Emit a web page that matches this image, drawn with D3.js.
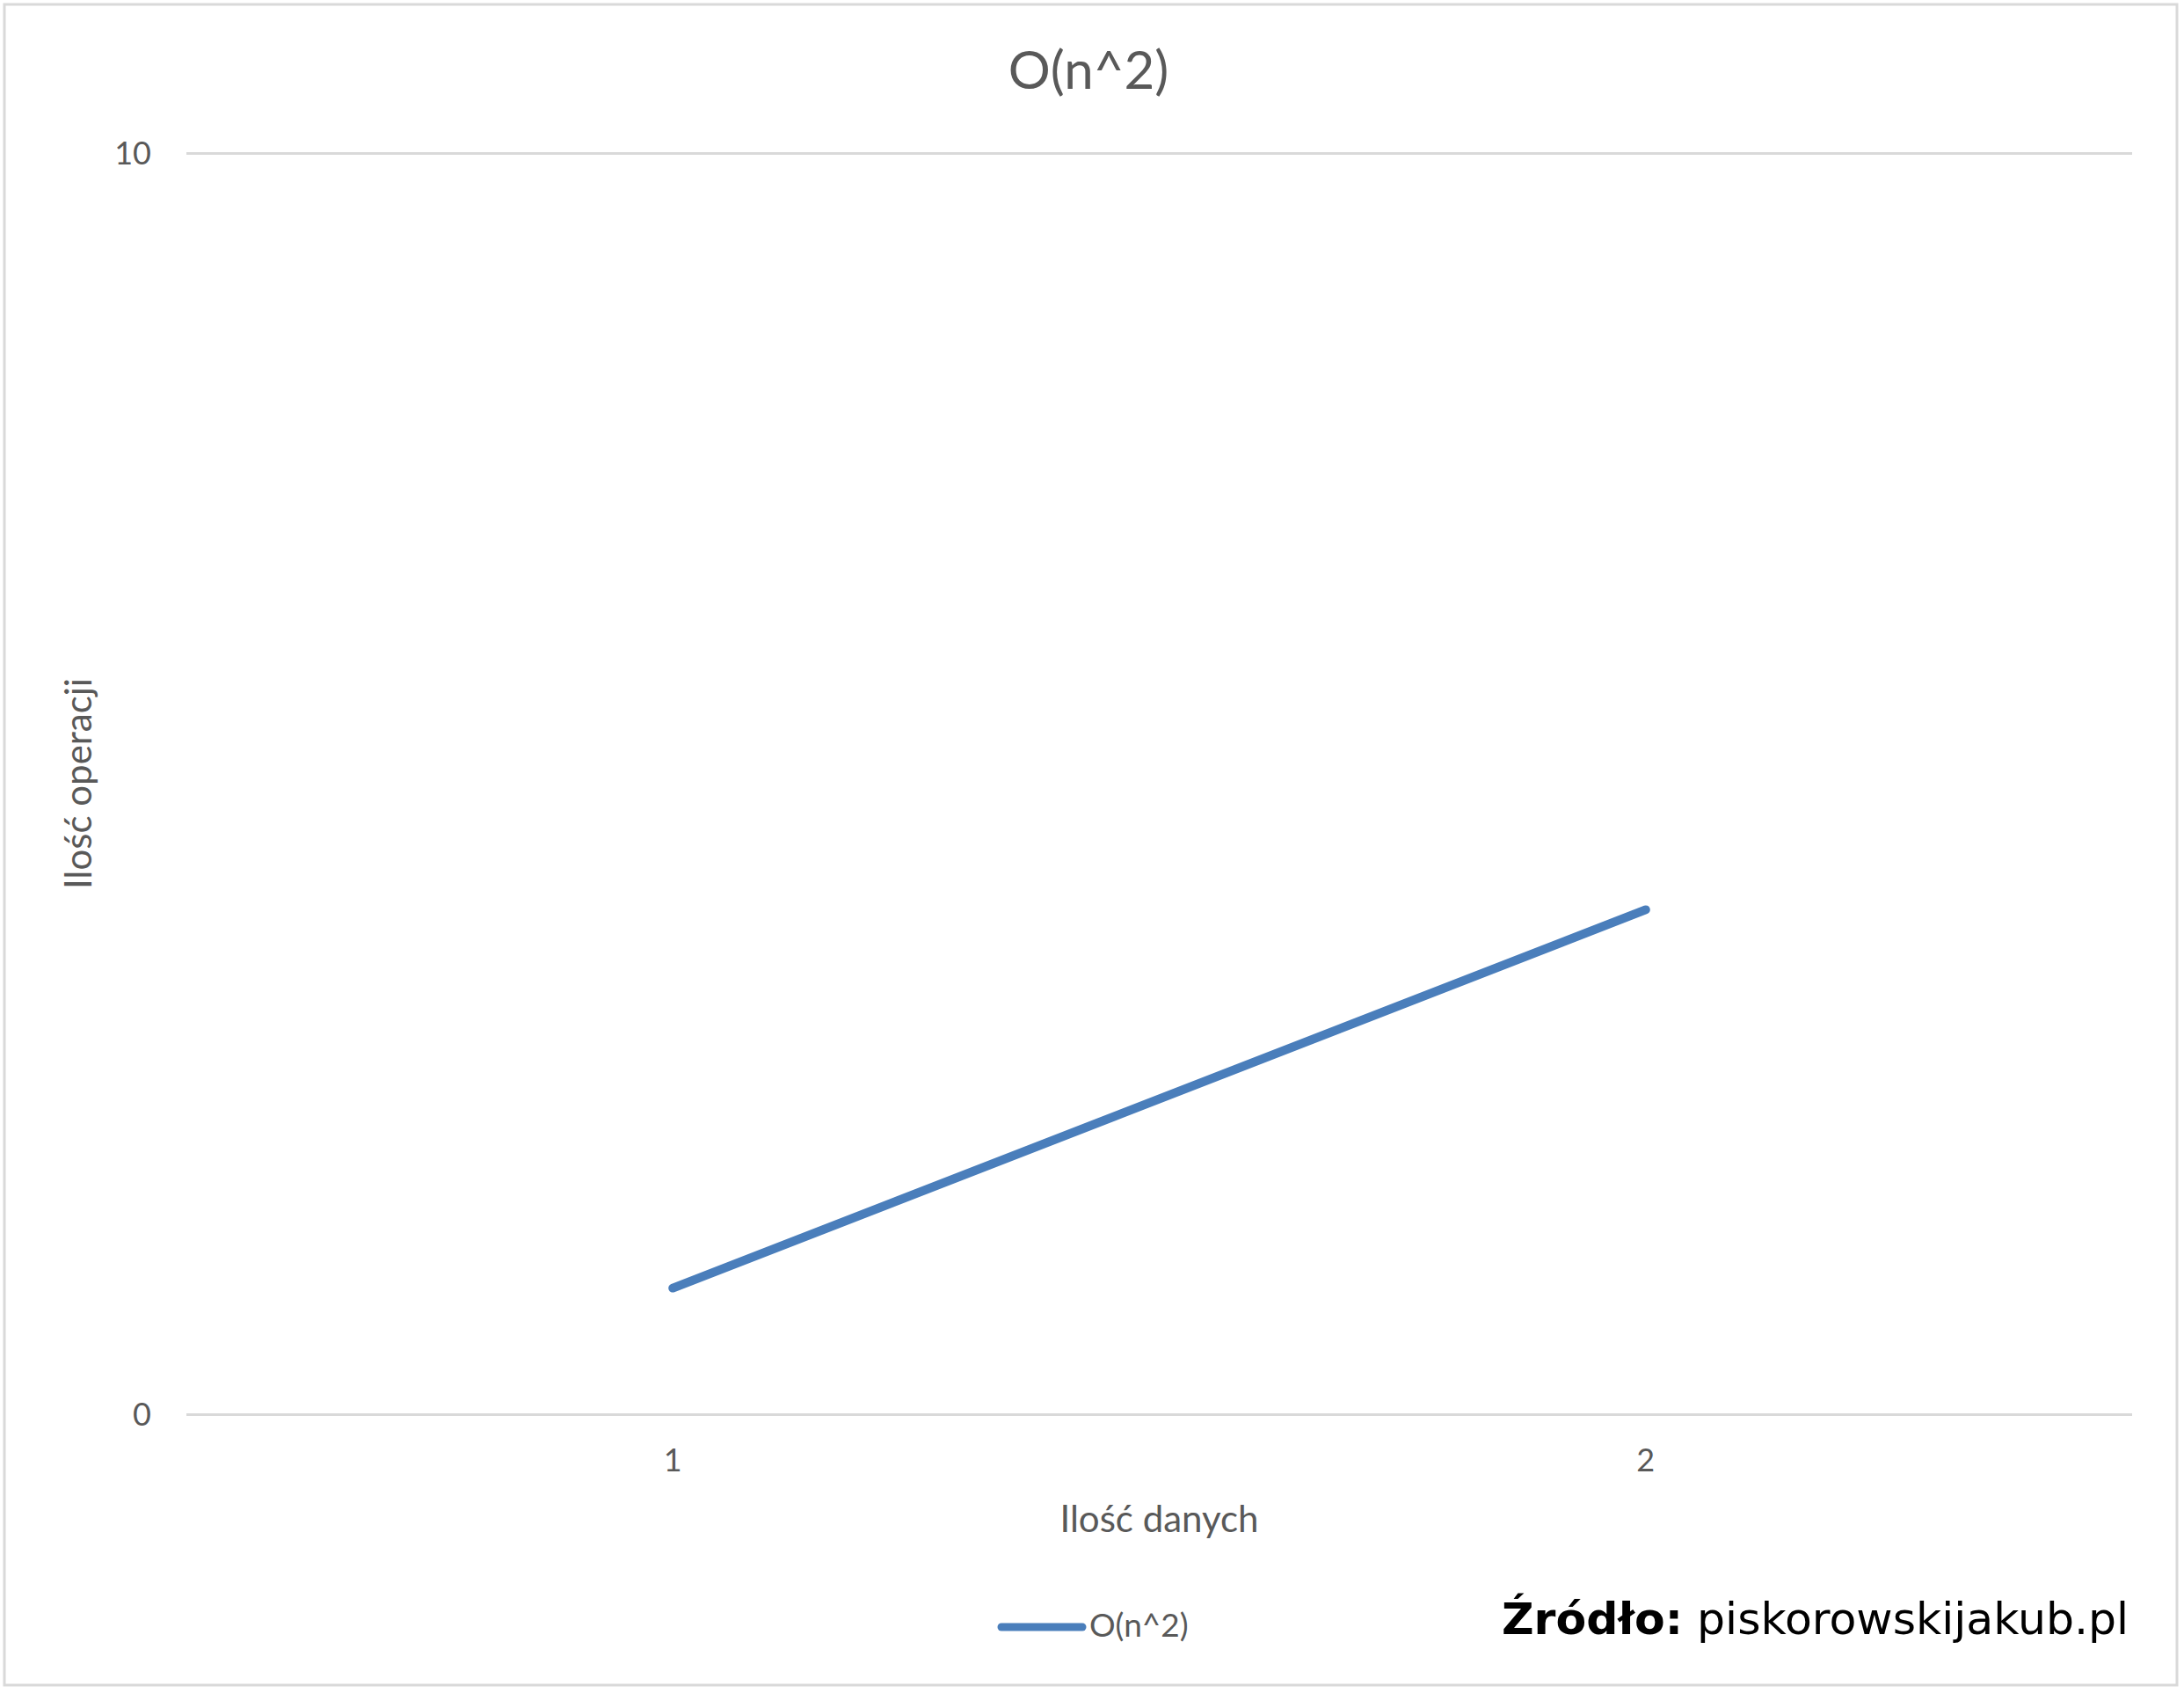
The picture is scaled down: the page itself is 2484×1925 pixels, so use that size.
<!DOCTYPE html>
<html>
<head>
<meta charset="utf-8">
<script src="https://cdn.jsdelivr.net/npm/d3@7"></script>
<style>
  html, body { margin: 0; padding: 0; background: #fff; }
  svg { display: block; }
  text { font-family: Lato, "Open Sans", sans-serif; fill: #595959; }
</style>
</head>
<body>
<svg id="chart" width="2484" height="1925"></svg>
<script>
const categories = ["1", "2"];
const seriesName = "O(n^2)";
const values = [1, 4];
const yTicks = [0, 10];
const yDomain = [0, 10];
const titleText = "O(n^2)";
const xTitle = "Ilość danych";
const yTitle = "Ilość operacji";
const sourceBold = "Źródło:";
const sourceText = "piskorowskijakub.pl";

const W = 2484, H = 1925;
const plot = { left: 212, right: 2425, top: 174, bottom: 1608 };
const grey = "#595959", gridCol = "#d9d9d9", lineCol = "#4a7ebb";

const svg = d3.select("#chart");
svg.append("rect").attr("x", 0).attr("y", 0).attr("width", W).attr("height", H).attr("fill", "#fff");
svg.append("rect").attr("x", 5).attr("y", 5).attr("width", 2471).attr("height", 1911)
  .attr("fill", "none").attr("stroke", gridCol).attr("stroke-width", 3);

const x = d3.scaleBand().domain(categories).range([plot.left, plot.right]).padding(0);
const y = d3.scaleLinear().domain(yDomain).range([plot.bottom, plot.top]);

// Y axis with gridlines
const yAxis = svg.append("g").attr("transform", `translate(${plot.left},0)`)
  .call(d3.axisLeft(y).tickValues(yTicks).tickSize(-(plot.right - plot.left)).tickPadding(40).tickFormat(d3.format("d")));
yAxis.select(".domain").remove();
yAxis.selectAll(".tick line").attr("stroke", gridCol).attr("stroke-width", 3);
yAxis.selectAll(".tick text").attr("fill", grey).attr("font-size", 36).attr("dy", "0.36em")
  .style("font-family", "Lato, sans-serif");

// X axis labels
const xAxis = svg.append("g").attr("transform", `translate(0,${plot.bottom})`)
  .call(d3.axisBottom(x).tickSize(0).tickPadding(0));
xAxis.select(".domain").remove();
xAxis.selectAll(".tick text").attr("fill", grey).attr("font-size", 36).attr("y", 65).attr("dy", null)
  .style("font-family", "Lato, sans-serif");

// Line
const line = d3.line().x((d, i) => x(categories[i]) + x.bandwidth() / 2).y(d => y(d));
svg.append("path").datum(values).attr("d", line).attr("fill", "none")
  .attr("stroke", lineCol).attr("stroke-width", 10).attr("stroke-linecap", "round").attr("stroke-linejoin", "round");

// Title
svg.append("text").attr("x", 1238).attr("y", 101).attr("text-anchor", "middle")
  .attr("font-size", 60).text(titleText);

// Axis titles
svg.append("text").attr("x", (plot.left + plot.right) / 2).attr("y", 1742).attr("text-anchor", "middle")
  .attr("font-size", 42).text(xTitle);
svg.append("text").attr("transform", `translate(104,${(plot.top + plot.bottom) / 2}) rotate(-90)`)
  .attr("text-anchor", "middle").attr("font-size", 42).text(yTitle);

// Legend
const lg = svg.append("g");
lg.append("line").attr("x1", 1139).attr("x2", 1231).attr("y1", 1850).attr("y2", 1850)
  .attr("stroke", lineCol).attr("stroke-width", 9).attr("stroke-linecap", "round");
lg.append("text").attr("x", 1239).attr("y", 1861).attr("font-size", 37).text(seriesName);

// Source
const src = svg.append("text").attr("x", 1708).attr("y", 1858)
  .style("font-family", "'DejaVu Sans', sans-serif").attr("font-size", 50.5).style("fill", "#000");
src.append("tspan").attr("font-weight", "bold").text(sourceBold);
src.append("tspan").text(" " + sourceText);
</script>
</body>
</html>
